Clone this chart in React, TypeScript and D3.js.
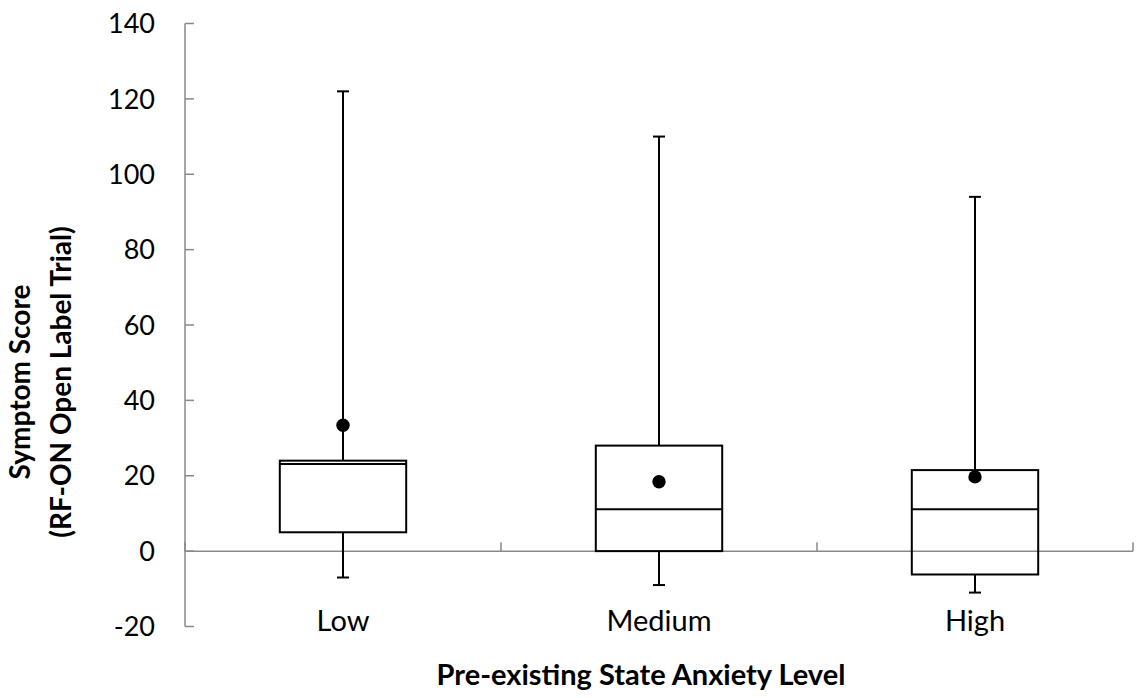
import React from "react";
import * as d3 from "d3";

const categories = ["Low", "Medium", "High"];
const whiskerLow = [-7, -9, -11];
const q1 = [5, 0, -6.2];
const median = [23.1, 11.1, 11.1];
const q3 = [24, 28, 21.5];
const whiskerHigh = [122, 110, 94];
const means = [33.4, 18.4, 19.7];
const yTicks = [-20, 0, 20, 40, 60, 80, 100, 120, 140];

const W = 1141;
const H = 698;
const FONT = "Lato, 'Open Sans', sans-serif";

export default function App() {
  const x = d3.scaleBand<string>().domain(categories).range([185, 1133]).paddingInner(0).paddingOuter(0);
  const y = d3.scaleLinear().domain([-20, 140]).range([626.5, 23.5]);
  const boxW = x.bandwidth() * 0.4;
  const capW = 12;
  const axisColor = "#898989";
  const bandEdges = [...categories.map((c) => x(c)!), x.range()[1]];

  return (
    <svg width={W} height={H} style={{ position: "absolute", left: 0, top: 0, background: "#fff" }}>
      {/* Y axis */}
      <line x1={185} x2={185} y1={y(140)} y2={y(-20)} stroke={axisColor} strokeWidth={1.5} />
      {yTicks.map((t) => (
        <g key={t}>
          <line x1={185} x2={194} y1={y(t)} y2={y(t)} stroke={axisColor} strokeWidth={1.5} />
          <text x={155} y={y(t)} dy="0.36em" textAnchor="end" fontFamily={FONT} fontSize={27} fill="#000">
            {t}
          </text>
        </g>
      ))}
      {/* X axis at zero */}
      <line x1={185} x2={x.range()[1]} y1={y(0)} y2={y(0)} stroke={axisColor} strokeWidth={1.5} />
      {bandEdges.map((e, i) => (
        <line key={i} x1={e} x2={e} y1={y(0)} y2={y(0) - 9} stroke={axisColor} strokeWidth={1.5} />
      ))}
      {categories.map((c) => (
        <text key={c} x={x(c)! + x.bandwidth() / 2} y={631} textAnchor="middle" fontFamily={FONT} fontSize={29} fill="#000">
          {c}
        </text>
      ))}
      {/* Boxes */}
      {categories.map((c, i) => {
        const cx = x(c)! + x.bandwidth() / 2;
        return (
          <g key={c} stroke="#000" strokeWidth={2} fill="none">
            <line x1={cx} x2={cx} y1={y(q3[i])} y2={y(whiskerHigh[i])} />
            <line x1={cx - capW / 2} x2={cx + capW / 2} y1={y(whiskerHigh[i])} y2={y(whiskerHigh[i])} />
            <line x1={cx} x2={cx} y1={y(q1[i])} y2={y(whiskerLow[i])} />
            <line x1={cx - capW / 2} x2={cx + capW / 2} y1={y(whiskerLow[i])} y2={y(whiskerLow[i])} />
            <rect x={cx - boxW / 2} y={y(q3[i])} width={boxW} height={y(q1[i]) - y(q3[i])} />
            <line x1={cx - boxW / 2} x2={cx + boxW / 2} y1={y(median[i])} y2={y(median[i])} />
            <circle cx={cx} cy={y(means[i])} r={6.7} fill="#000" stroke="none" />
          </g>
        );
      })}
      {/* Axis titles */}
      <text x={641} y={685} textAnchor="middle" fontFamily={FONT} fontWeight="bold" fontSize={29} fill="#000">
        Pre-existing State Anxiety Level
      </text>
      <g transform={`translate(0, 382) rotate(-90)`}>
        <text x={0} y={30} textAnchor="middle" fontFamily={FONT} fontWeight="bold" fontSize={28} fill="#000">
          Symptom Score
        </text>
        <text x={0} y={71} textAnchor="middle" fontFamily={FONT} fontWeight="bold" fontSize={28} fill="#000">
          (RF-ON Open Label Trial)
        </text>
      </g>
    </svg>
  );
}
